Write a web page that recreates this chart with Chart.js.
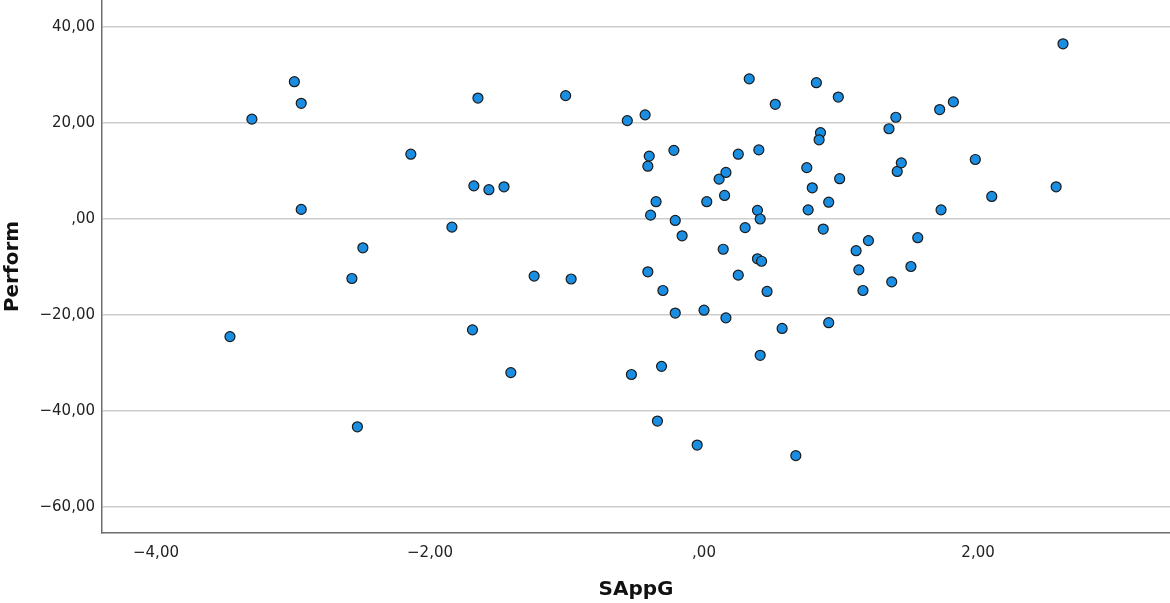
<!DOCTYPE html>
<html>
<head>
<meta charset="utf-8">
<script src="https://cdn.jsdelivr.net/npm/chart.js@4/dist/chart.umd.min.js"></script>
<style>
  html, body { margin: 0; padding: 0; background: #fff; }
  #wrap { width: 1170px; height: 603px; position: relative; }
</style>
</head>
<body>
<div id="wrap"><canvas id="scatter"></canvas></div>
<script>
// SAppG (x) vs Perform (y)
const sappg = [
  -3.30, -2.99, -2.94, -2.94, -2.57, -2.49, -3.46, -2.53, -2.14, -1.84,
  -1.68, -1.57, -1.46, -1.65, -1.69, -1.41, -1.24, -1.01, -0.97, -0.56,
  -0.43, -0.53, -0.40, -0.41, -0.22, -0.35, -0.39, -0.41, -0.21, -0.16,
  -0.30, -0.31, -0.34, -0.21, -0.05, 0.00, 0.02, 0.11, 0.16, 0.15,
  0.14, 0.16, 0.25, 0.30, 0.25, 0.33, 0.39, 0.41, 0.40, 0.39,
  0.42, 0.41, 0.46, 0.52, 0.57, 0.67, 0.75, 0.79, 0.76, 0.82,
  0.85, 0.84, 0.87, 0.91, 0.91, 0.98, 0.99, 1.11, 1.13, 1.16,
  1.20, 1.35, 1.40, 1.37, 1.41, 1.44, 1.51, 1.56, 1.72, 1.82,
  1.73, 1.98, 2.10, 2.57, 2.62
];
const perform = [
  20.8, 28.6, 24.1, 2.0, -12.4, -6.0, -24.5, -43.3, 13.5, -1.7,
  6.9, 6.1, 6.7, 25.2, -23.1, -32.0, -11.9, 25.7, -12.5, 20.5,
  21.7, -32.4, 13.1, 11.0, 14.3, 3.6, 0.8, -11.0, -0.3, -3.5,
  -14.9, -30.7, -42.1, -19.6, -47.1, -19.0, 3.6, 8.3, 9.7, 4.9,
  -6.3, -20.6, 13.5, -1.8, -11.7, 29.2, 1.8, 0.0, 14.4, -8.3,
  -8.8, -28.4, -15.1, 23.9, -22.8, -49.3, 10.7, 6.5, 1.9, 28.4,
  18.0, 16.5, -2.1, 3.5, -21.6, 25.4, 8.4, -6.6, -10.6, -14.9,
  -4.5, 18.8, 21.2, -13.1, 9.9, 11.7, -9.9, -3.9, 22.8, 24.4,
  1.9, 12.4, 4.7, 6.7, 36.5
];
const xTicks = [-4, -2, 0, 2];
const yTicks = [-60, -40, -20, 0, 20, 40];

const points = sappg.map((v, i) => ({ x: v, y: perform[i] }));

// SPSS style numbers: decimal comma, no leading zero
function spssNum(v) {
  let s = Math.abs(v).toFixed(2).replace('.', ',');
  if (s.startsWith('0,')) s = s.slice(1);
  return (v < 0 ? '−' : '') + s;
}

// no extra room for half labels at the ends, the plot runs to the edges
function noPad(s) {
  s.paddingTop = 0; s.paddingBottom = 0;
  s.paddingLeft = 0; s.paddingRight = 0;
}

const tickFont = { family: 'DejaVu Sans', size: 15 };
const titleFont = { family: 'DejaVu Sans', size: 20, weight: 'bold' };

new Chart(document.getElementById('scatter'), {
  type: 'scatter',
  data: {
    datasets: [{
      data: points,
      backgroundColor: '#1a8ee2',
      borderColor: '#1b1b1b',
      borderWidth: 1.2,
      pointRadius: 5,
      pointHoverRadius: 5
    }]
  },
  options: {
    responsive: true,
    maintainAspectRatio: false,
    animation: false,
    layout: { padding: 0, autoPadding: false },
    plugins: { legend: { display: false }, tooltip: { enabled: false } },
    scales: {
      x: {
        type: 'linear',
        min: -4.394,
        max: 3.401,
        afterFit: s => { s.height = 70; noPad(s); },
        afterBuildTicks: s => { s.ticks = xTicks.map(v => ({ value: v })); },
        grid: { display: false, drawTicks: false },
        border: { display: true, color: '#6e6e6e', width: 1.5 },
        ticks: { color: '#222', font: tickFont, padding: 11, maxRotation: 0, callback: v => spssNum(v) },
        title: { display: true, text: 'SAppG', color: '#111', font: titleFont, padding: { top: 0, bottom: 1 } }
      },
      y: {
        type: 'linear',
        min: -65.42,
        max: 45.625,
        afterFit: s => { s.width = 102; noPad(s); },
        afterBuildTicks: s => { s.ticks = yTicks.map(v => ({ value: v })); },
        grid: { color: '#cdcdcd', lineWidth: 1.5, drawTicks: false },
        border: { display: true, color: '#6e6e6e', width: 1.5 },
        ticks: { color: '#222', font: tickFont, padding: 7, callback: v => spssNum(v) },
        title: { display: true, text: 'Perform', color: '#111', font: titleFont, padding: { top: 1, bottom: 0 } }
      }
    }
  }
});
</script>
</body>
</html>
